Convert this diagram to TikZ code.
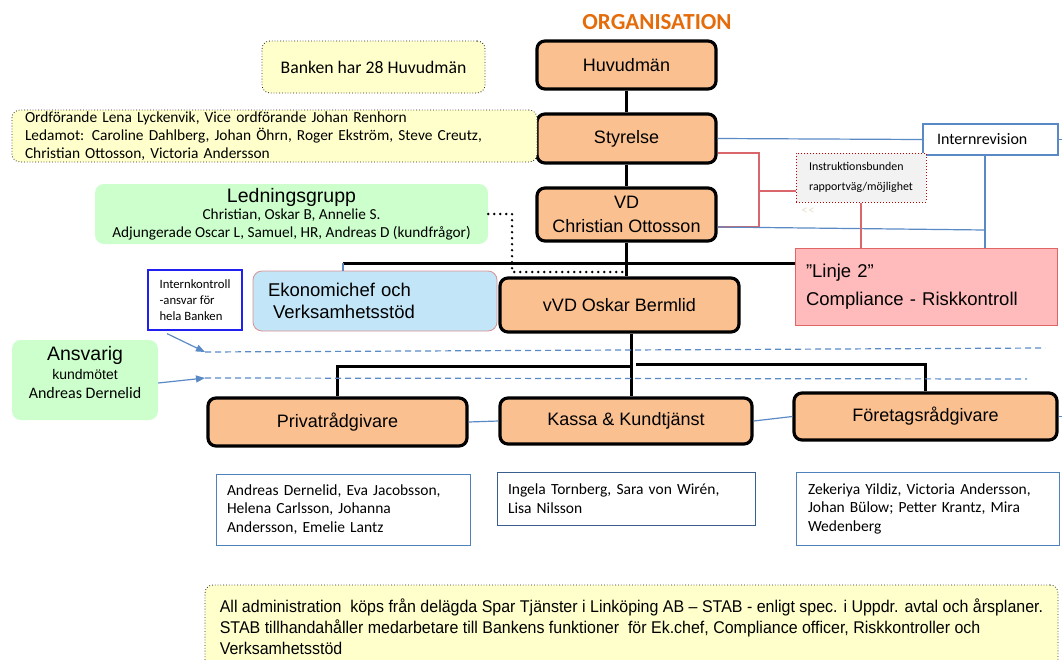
\documentclass[tikz,border=0pt]{standalone}
\usepackage{fontspec}
\setmainfont{Liberation Sans}
\newfontfamily\calfont{Carlito}
\newfontfamily\narrowsans{Liberation Sans}[FakeStretch=0.94]
\usetikzlibrary{arrows.meta,calc}
\newcommand\fs[2]{\fontsize{#1}{#2}\selectfont}
\definecolor{peach}{HTML}{FAC090}
\definecolor{lyellow}{HTML}{FFFFCC}
\definecolor{lgreen}{HTML}{CCFFCC}
\definecolor{ekblue}{HTML}{C2E6F8}
\definecolor{ekborder}{HTML}{D99090}
\definecolor{pinkfill}{HTML}{FFBBBB}
\definecolor{pinkborder}{HTML}{E06666}
\definecolor{lblue}{HTML}{5A8AC6}
\definecolor{mblue}{HTML}{4F81BD}
\definecolor{dblue}{HTML}{3A5F8F}
\definecolor{kblue}{HTML}{2020F0}
\definecolor{orgorange}{HTML}{E46C0A}
\definecolor{lred}{HTML}{D9666A}
\definecolor{dred}{HTML}{C00000}
\definecolor{lgray}{HTML}{F2F2F2}
\definecolor{faint}{HTML}{E8E0CC}
\begin{document}
\begin{tikzpicture}[x=1pt,y=-1pt,
  pbox/.style={draw=black, line width=3.2pt, rounded corners=8pt, fill=peach, font=\fs{18}{22}, align=center, inner sep=0pt},
  ybox/.style={draw=black!85, dotted, line width=0.8pt, fill=lyellow, rounded corners=8pt},
  gbox/.style={fill=lgreen, draw=none, rounded corners=9pt, align=center, inner sep=0pt},
  mbox/.style={draw=mblue, line width=1pt, fill=white, align=left, inner ysep=0pt, font=\calfont\fs{15.5}{18.5}},
  wire/.style={line width=3pt},
  bwire/.style={draw=lblue, line width=1.2pt},
  rwire/.style={draw=lred, line width=1.2pt},
  dashline/.style={draw=lblue, dash pattern=on 6pt off 4pt, line width=1.2pt},
  dotline/.style={line width=2.6pt, dash pattern=on 0pt off 6pt, line cap=round},
  barrow/.style={draw=lblue, line width=1.2pt, -{Triangle[length=9pt,width=7pt]}}
]
\useasboundingbox (0,0) rectangle (1062,659);

% title
\node[font=\calfont\bfseries\fs{23}{26}, text=orgorange] (title) at (657,22) {ORGANISATION};

% main chain
\node[pbox, minimum width=179pt, minimum height=48pt] (huv) at (626.5,65) {Huvudmän};
\node[pbox, minimum width=179pt, minimum height=49pt] (sty) at (626.5,138.5) {Styrelse};
\node[pbox, minimum width=179pt, minimum height=53pt, font=\fs{18}{24}] (vd) at (626.5,214.5) {VD\\Christian Ottosson};
\node[pbox, minimum width=239pt, minimum height=54pt] (vvd) at (619.5,305) {vVD Oskar Bermlid};
\node[pbox, minimum width=259pt, minimum height=48pt] (priv) at (337.5,422) {Privatrådgivare};
\node[pbox, minimum width=252pt, minimum height=46pt] (kassa) at (626,421) {Kassa \& Kundtjänst};
\node[pbox, minimum width=263pt, minimum height=47pt] (foret) at (925.5,416.5) {Företagsrådgivare};

% yellow notes
\node[ybox, minimum width=223pt, minimum height=52pt, font=\calfont\fs{17.7}{20}] (bank) at (373.5,67) {Banken har 28 Huvudmän};
\node[ybox, minimum width=525pt, minimum height=52pt, text width=505pt, inner xsep=10pt, inner ysep=0pt, align=left, font=\calfont\fs{15.4}{18}] (board) at (274.5,136)
  {\hspace*{3pt}Ordförande Lena Lyckenvik, Vice ordförande Johan Renhorn\\\hspace*{3pt}Ledamot: Caroline Dahlberg, Johan Öhrn, Roger Ekström, Steve Creutz,\\\hspace*{3pt}Christian Ottosson, Victoria Andersson};

% green boxes
\node[gbox, minimum width=393pt, minimum height=60pt, font=\calfont\fs{15.3}{18}] (ledn) at (291.5,214)
  {{\fs{19.5}{20}\rmfamily Ledningsgrupp}\\[-1pt]Christian, Oskar B, Annelie S.\\Adjungerade Oscar L, Samuel, HR, Andreas D (kundfrågor)};
\node[gbox, minimum width=146pt, minimum height=80pt, text depth=16pt, font=\fs{14}{19}] (ansv) at (85,380)
  {{\fs{19.5}{19}Ansvarig}\\kundmötet\\{\calfont\fs{16}{19}Andreas Dernelid}};

% other boxes
\node[draw=ekborder, line width=0.8pt, fill=ekblue, rounded corners=9pt, minimum width=244pt, minimum height=60pt, text width=214pt, inner xsep=15pt, inner ysep=0pt, align=left, font=\fs{18.5}{22}] (ekon) at (375,301)
  {Ekonomichef och\\\hspace*{5pt}Verksamhetsstöd};
\node[draw=kblue, line width=1.2pt, fill=white, minimum width=94pt, minimum height=60pt, align=left, inner sep=0pt, font=\calfont\fs{12.7}{16}] (intk) at (195,300)
  {Internkontroll\\-ansvar för\\hela Banken};
\node[draw=lblue, line width=1.3pt, fill=white, minimum width=135pt, minimum height=31pt, text width=107pt, inner xsep=14pt, inner ysep=0pt, align=left, font=\calfont\fs{16}{18}] (intr) at (990.5,139.5) {Internrevision};
\node[draw=dred, dotted, line width=1pt, fill=lgray, minimum width=130pt, minimum height=49pt, align=left, inner sep=0pt, font=\calfont\fs{11.9}{20}] (instr) at (861,177.5)
  {Instruktionsbunden\\rapportväg/möjlighet};
\node[font=\calfont\fs{13}{14}, text=faint] (lt) at (808,211) {<\kern0.5pt<};
\node[draw=pinkborder, line width=1pt, fill=pinkfill, minimum width=262pt, minimum height=77pt, text width=240pt, inner xsep=11pt, inner ysep=0pt, align=left, font=\fs{18.5}{28}] (linje) at (926,286.5)
  {”Linje 2”\\Compliance - Riskkontroll};

% member boxes
\node[mbox, minimum width=254pt, minimum height=71pt, text width=232pt, inner xsep=11pt] (m1) at (343,509.5)
  {Andreas Dernelid, Eva Jacobsson,\\Helena Carlsson, Johanna\\Andersson, Emelie Lantz};
\node[mbox, draw=dblue, minimum width=258pt, minimum height=53pt, text width=236pt, inner xsep=11pt] (m2) at (626,498.5)
  {Ingela Tornberg, Sara von Wirén,\\Lisa Nilsson};
\node[mbox, minimum width=263pt, minimum height=73pt, text width=239pt, inner xsep=12pt] (m3) at (927.5,508.5)
  {Zekeriya Yildiz, Victoria Andersson,\\Johan Bülow; Petter Krantz, Mira\\Wedenberg};

% bottom note
\node[ybox, minimum width=853pt, minimum height=84pt, align=left, font=\narrowsans\fs{17}{21}] (admin) at (631.5,627)
  {All administration \ köps från delägda Spar Tjänster i Linköping AB – STAB - enligt spec. i Uppdr. avtal och årsplaner.\\STAB tillhandahåller medarbetare till Bankens funktioner \ för Ek.chef, Compliance officer, Riskkontroller och\\Verksamhetsstöd};

% coordinates
\coordinate (hl) at (343,263);
\coordinate (hr) at (795,263);
\coordinate (dt) at (512,272);
\coordinate (vb) at (631,366);
\coordinate (rb) at (636,364);
\coordinate (iv) at (985,230);
\coordinate (ire) at (1062,139.5);
\coordinate (fe) at (1062,416.5);
\coordinate (ra) at (759,153);
\coordinate (rc) at (759,227);
\coordinate (rm) at (759,191);
\coordinate (a1) at (205,352);
\coordinate (a1e) at (1045,348);
\coordinate (a2) at (205,378);
\coordinate (a2e) at (1027,379);
\coordinate (vdr) at ($(vd.east)+(0,12.5)$);

% black structure
\draw[wire] (huv.south) -- (sty.north);
\draw[wire] (sty.south) -- (vd.north);
\draw[wire] (vd.south) -- (vd.south |- vvd.north);
\draw[wire] (hl) -- (hr);
\draw[bwire] (hl) -- (hl |- ekon.north);
\draw[dotline] (ledn.east) -| (dt) -- (dt -| vd.south);
\draw[wire] (vvd.south -| vb) -- (vb |- kassa.north);
\draw[wire] (vb) -| (priv.north);
\draw[wire] (rb) -| (foret.north);

% blue and red lines
\draw[bwire] (sty.east) -- (intr.west);
\draw[bwire] (intr.east) -- (ire);
\draw[bwire] (intr.south -| iv) -- (linje.north -| iv);
\draw[rwire] (sty.east |- ra) -- (ra) -- (rc) -- (vd.east |- rc);
\draw[bwire] (vdr) -- (iv);
\draw[rwire] (rm) -- (instr.west |- rm);
\draw[rwire] (instr.south) -- (instr.south |- linje.north);
\draw[bwire] (priv.east) -- (kassa.west);
\draw[bwire] (kassa.east) -- (foret.west);
\draw[bwire] (foret.east) -- (fe);

% arrows and dashed lines
\draw[barrow] ($(intk.south)+(-28,3)$) -- (a1);
\draw[barrow] ($(ansv.east)+(0,3)$) -- (a2);
\draw[dashline] (a1) -- (a1e);
\draw[dashline] (a2) -- (a2e);
\end{tikzpicture}
\end{document}
